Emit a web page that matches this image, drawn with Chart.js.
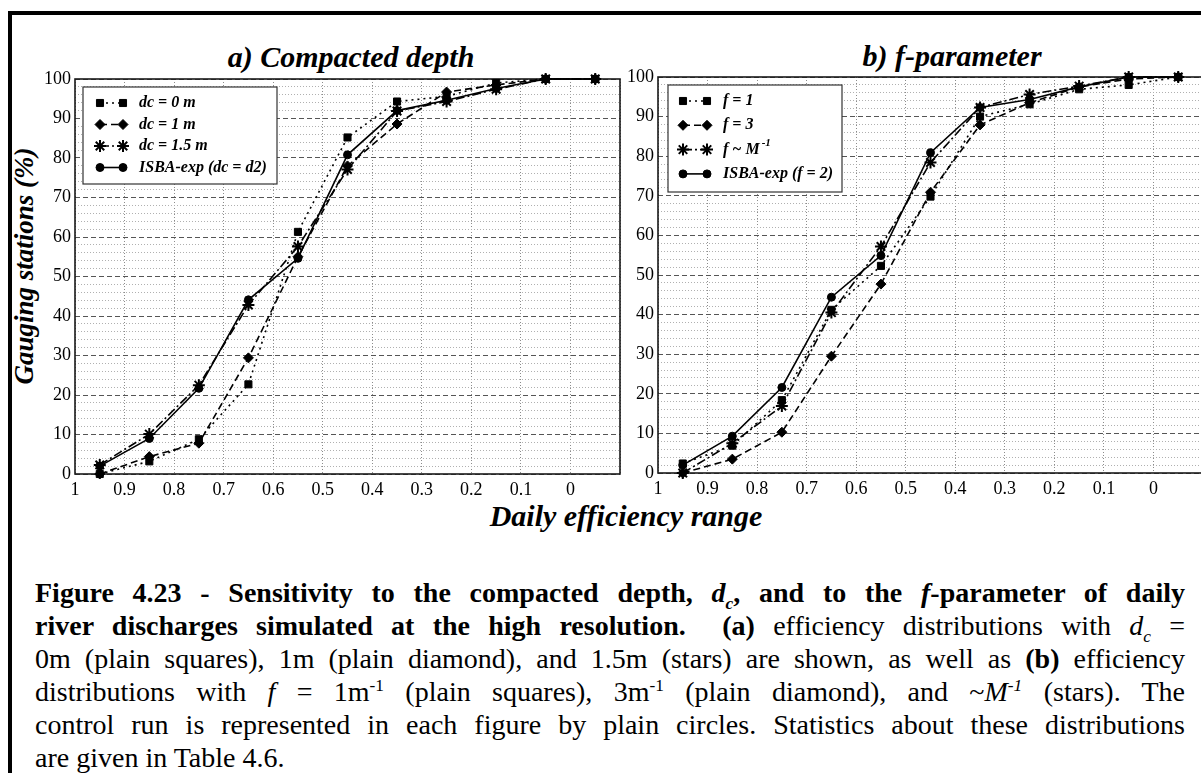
<!DOCTYPE html>
<html>
<head>
<meta charset="utf-8">
<script src="https://cdn.jsdelivr.net/npm/chart.js@4.4.1/dist/chart.umd.min.js"></script>
<style>
html, body { margin: 0; padding: 0; background: #fff; overflow: hidden; }
body { width: 1201px; height: 773px; position: relative; font-family: "Liberation Serif", "Times New Roman", serif; color: #000; }
#frame { position: absolute; left: 8px; top: 11px; width: 1400px; height: 900px; border-left: 4px solid #000; border-top: 4px solid #000; }
canvas { position: absolute; }
#cA { left: 30px; top: 60px; }
#cB { left: 613px; top: 60px; }
.ttl { position: absolute; font-weight: bold; font-style: italic; font-size: 30px; white-space: nowrap; transform: translate(-50%, -50%); }
#ytitle { position: absolute; left: 24px; top: 266px; font-weight: bold; font-style: italic; font-size: 27px; white-space: nowrap; transform: translate(-50%, -50%) rotate(-90deg); }
#cap { position: absolute; left: 35px; width: 1150px; top: 576px; font-size: 28px; line-height: 33px; }
#cap .ln { text-align: justify; text-align-last: justify; white-space: nowrap; }
#cap .ln, #cap .last { height: 33px; }
sub, sup { font-size: 0.62em; line-height: 0; }
</style>
</head>
<body>
<div id="frame"></div>
<div class="ttl" style="left:351px; top:57px;">a) Compacted depth</div>
<div class="ttl" style="left:952px; top:56px;">b) f-parameter</div>
<div id="ytitle">Gauging stations (%)</div>
<div class="ttl" style="left:626px; top:516px;">Daily efficiency range</div>
<canvas id="cA" width="600" height="460"></canvas>
<canvas id="cB" width="600" height="460"></canvas>
<div id="cap">
<div class="ln"><b>Figure 4.23 - Sensitivity to the compacted depth, <i>d<sub>c</sub></i>, and to the <i>f</i>-parameter of daily</b></div>
<div class="ln"><b>river discharges simulated at the high resolution.&nbsp; (a)</b> efficiency distributions with <i>d<sub>c</sub></i> =</div>
<div class="ln">0m (plain squares), 1m (plain diamond), and 1.5m (stars) are shown, as well as <b>(b)</b> efficiency</div>
<div class="ln">distributions with <i>f</i> = 1m<sup>-1</sup> (plain squares), 3m<sup>-1</sup> (plain diamond), and ~<i>M<sup>-1</sup></i> (stars). The</div>
<div class="ln">control run is represented in each figure by plain circles. Statistics about these distributions</div>
<div class="last">are given in Table 4.6.</div>
</div>
<script>
// efficiency bins (centres), reversed axis 1 -> 0
const effBins = [0.95, 0.85, 0.75, 0.65, 0.55, 0.45, 0.35, 0.25, 0.15, 0.05, -0.05];

// a) compacted depth
const labelsA = ['dc = 0 m', 'dc = 1 m', 'dc = 1.5 m', 'ISBA-exp (dc = d2)'];
const supsA = ['', '', '', ''];
const dc0 = [0, 3.2, 8.8, 22.7, 61.3, 85.2, 94.3, 95.6, 99.0, 100, 100];
const dc1 = [0, 4.4, 7.8, 29.4, 55.0, 78.0, 88.6, 96.7, 98.5, 100, 100];
const dc15 = [2.3, 10.1, 22.5, 42.8, 57.6, 77.1, 91.9, 94.3, 97.4, 100, 100];
const isbaA = [2.0, 9.0, 21.7, 44.1, 54.6, 80.8, 92.0, 94.6, 97.6, 100, 100];

// b) f-parameter
const labelsB = ['f = 1', 'f = 3', 'f ~ M', 'ISBA-exp (f = 2)'];
const supsB = ['', '', '-1', ''];
const f1 = [2.4, 6.9, 18.4, 41.2, 52.3, 69.8, 90.0, 93.1, 96.9, 98.0, 100];
const f3 = [0, 3.5, 10.3, 29.5, 47.7, 70.9, 87.9, 93.5, 97.5, 99.5, 100];
const fM = [0, 7.5, 16.9, 40.5, 57.2, 78.4, 92.3, 95.6, 97.7, 100, 100];
const isbaB = [2.0, 9.3, 21.6, 44.4, 54.9, 80.9, 92.3, 94.3, 97.5, 100, 100];

const looks = [
    {pointStyle: 'rect', radius: 5, dash: [2, 4]},
    {pointStyle: 'rectRot', radius: 5, dash: [7, 4]},
    {pointStyle: 'star', radius: 6, dash: [9, 3, 2, 3]},
    {pointStyle: 'circle', radius: 4, dash: []}
];

function makeSets(series, labels) {
    return series.map((vals, i) => ({
        label: labels[i],
        data: vals.map((v, k) => ({x: effBins[k], y: v})),
        borderColor: '#000',
        backgroundColor: '#000',
        borderWidth: 1.6,
        borderDash: looks[i].dash,
        pointStyle: looks[i].pointStyle,
        pointRadius: looks[i].radius,
        pointBorderWidth: looks[i].pointStyle === 'star' ? 2 : 1,
        pointBackgroundColor: '#000',
        pointBorderColor: '#000',
        tension: 0,
        fill: false,
        clip: false
    }));
}

const plotFrame = {
    id: 'plotFrame',
    beforeDatasetsDraw(chart) {
        const a = chart.chartArea, ctx = chart.ctx;
        ctx.save();
        ctx.strokeStyle = '#1a1a1a';
        ctx.lineWidth = 1.6;
        ctx.strokeRect(a.left, a.top, a.right - a.left, a.bottom - a.top);
        ctx.restore();
    }
};

function boxLegend(box, labels, sups) {
    return {
        id: 'boxLegend',
        afterDatasetsDraw(chart) {
            const ctx = chart.ctx, a = chart.chartArea;
            const x0 = a.left + box.x, y0 = a.top + box.y;
            ctx.save();
            ctx.fillStyle = '#fff';
            ctx.fillRect(x0, y0, box.w, box.h);
            ctx.strokeStyle = '#333';
            ctx.lineWidth = 1.2;
            ctx.strokeRect(x0, y0, box.w, box.h);
            chart.data.datasets.forEach((ds, i) => {
                const cy = y0 + box.first + i * box.row;
                const xa = x0 + box.sym1, xb = x0 + box.sym2;
                ctx.strokeStyle = '#000';
                ctx.fillStyle = '#000';
                ctx.lineWidth = ds.borderWidth;
                ctx.setLineDash(ds.borderDash);
                ctx.beginPath();
                ctx.moveTo(xa, cy);
                ctx.lineTo(xb, cy);
                ctx.stroke();
                ctx.setLineDash([]);
                [xa, xb].forEach(px => {
                    ctx.lineWidth = ds.pointBorderWidth;
                    Chart.helpers.drawPoint(ctx, {pointStyle: ds.pointStyle, radius: ds.pointRadius, borderWidth: ds.pointBorderWidth, rotation: 0}, px, cy);
                });
                ctx.font = 'italic bold 16px "Liberation Serif"';
                ctx.textBaseline = 'middle';
                ctx.textAlign = 'left';
                ctx.fillText(labels[i], x0 + box.text, cy);
                if (sups[i]) {
                    const w = ctx.measureText(labels[i]).width;
                    ctx.font = 'italic bold 11px "Liberation Serif"';
                    ctx.fillText(sups[i], x0 + box.text + w + 2, cy - 6);
                }
            });
            ctx.restore();
        }
    };
}

function makeOptions(pad, xh) {
    const tickFont = {family: '"Liberation Serif"', size: 18};
    return {
        responsive: false,
        animation: false,
        layout: {padding: pad},
        plugins: {legend: {display: false}, tooltip: {enabled: false}},
        scales: {
            x: {
                type: 'linear', reverse: true, min: -0.1, max: 1,
                afterFit: s => { s.height = xh; },
                ticks: {
                    stepSize: 0.1, autoSkip: false, maxRotation: 0, padding: 5, color: '#000', font: tickFont,
                    callback: v => v < -0.05 ? '' : String(Math.round(v * 10) / 10)
                },
                grid: {color: '#8c8c8c', lineWidth: 1, drawTicks: false},
                border: {display: false, dash: [1, 2]}
            },
            y: {
                min: 0, max: 100,
                afterFit: s => { s.width = 45; },
                ticks: {stepSize: 10, padding: 4, color: '#000', font: tickFont},
                grid: {color: '#555', lineWidth: 1, drawTicks: false},
                border: {display: false, dash: [5, 3]}
            },
            yMinor: {
                position: 'left', min: 0, max: 100,
                afterFit: s => { s.width = 0; },
                ticks: {display: false, stepSize: 2},
                grid: {drawTicks: false, lineWidth: 1, color: c => (c.tick && c.tick.value % 10 === 0) ? 'rgba(0,0,0,0)' : '#b0b0b0'},
                border: {display: false, dash: [1, 2]}
            }
        }
    };
}

new Chart(document.getElementById('cA').getContext('2d'), {
    type: 'line',
    data: {datasets: makeSets([dc0, dc1, dc15, isbaA], labelsA)},
    options: makeOptions({top: 19, right: 10, left: 0, bottom: 0}, 46),
    plugins: [plotFrame, boxLegend({x: 8, y: 8, w: 194, h: 97, first: 16, row: 21.5, sym1: 17, sym2: 40, text: 56}, labelsA, supsA)]
});

new Chart(document.getElementById('cB').getContext('2d'), {
    type: 'line',
    data: {datasets: makeSets([f1, f3, fM, isbaB], labelsB)},
    options: makeOptions({top: 17, right: 10, left: 0, bottom: 0}, 47),
    plugins: [plotFrame, boxLegend({x: 10, y: 8, w: 174, h: 107, first: 16, row: 24.3, sym1: 15, sym2: 39, text: 55}, labelsB, supsB)]
});
</script>
</body>
</html>
